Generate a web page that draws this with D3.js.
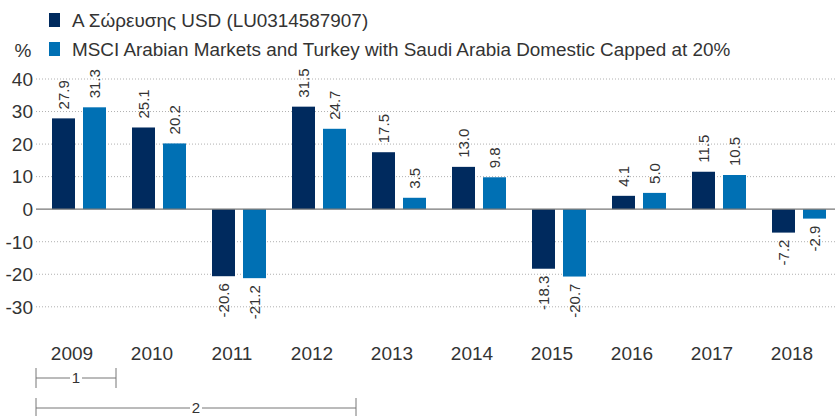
<!DOCTYPE html>
<html><head><meta charset="utf-8">
<script src="https://cdn.jsdelivr.net/npm/d3@7"></script>
<style>body{margin:0;background:#fff}svg{display:block;font-family:"Liberation Sans",Arial,sans-serif}</style>
</head><body><svg id="c" width="835" height="416"></svg>
<script>
const years = ["2009","2010","2011","2012","2013","2014","2015","2016","2017","2018"];
const fundValues = [27.9,25.1,-20.6,31.5,17.5,13.0,-18.3,4.1,11.5,-7.2];
const indexValues = [31.3,20.2,-21.2,24.7,3.5,9.8,-20.7,5.0,10.5,-2.9];
const seriesNames = ["Α Σώρευσης USD (LU0314587907)","MSCI Arabian Markets and Turkey with Saudi Arabia Domestic Capped at 20%"];
const yTicks = [-30,-20,-10,0,10,20,30,40];
const periodLabels = ["1","2"];
const periodSpans = [1,4];
const colors = ["#002a5e","#0070b4"];

const svg = d3.select("#c");
const x = d3.scaleBand().domain(years).range([36,836]);
const y = d3.scaleLinear().domain([-30,40]).range([306.8,79]);
const barW = 23, offs = [16,47];

// gridlines
svg.append("g").selectAll("line").data(yTicks.filter(d=>d!==0)).join("line")
  .attr("x1",36).attr("x2",835).attr("y1",d=>y(d)).attr("y2",d=>y(d))
  .attr("stroke","#b0b0b0").attr("stroke-width",1).attr("stroke-dasharray","1,2");

// y tick labels
svg.append("g").selectAll("text").data(yTicks).join("text")
  .attr("x",33).attr("y",d=>y(d)).attr("dy","0.36em").attr("text-anchor","end")
  .attr("font-size",19).attr("fill","#333").text(d=>d);

svg.append("text").attr("x",23).attr("y",57).attr("text-anchor","middle")
  .attr("font-size",19).attr("fill","#333").text("%");

const seriesData = [fundValues,indexValues];
seriesData.forEach((vals,si)=>{
  const g = svg.append("g");
  g.selectAll("rect").data(vals).join("rect")
    .attr("x",(d,i)=>x(years[i])+offs[si]).attr("width",barW)
    .attr("y",d=>y(Math.max(0,d))).attr("height",d=>Math.abs(y(d)-y(0)))
    .attr("fill",colors[si]);
  g.selectAll("text").data(vals).join("text")
    .attr("transform",(d,i)=>{
      const cx = x(years[i])+offs[si]+barW/2;
      const yy = d>=0 ? y(d)-9 : y(d)+7;
      return `translate(${cx},${yy}) rotate(-90)`;
    })
    .attr("text-anchor",d=>d>=0?"start":"end").attr("dy","0.36em")
    .attr("font-size",15).attr("fill","#333").text(d=>d.toFixed(1));
});

// zero line
svg.append("line").attr("x1",36).attr("x2",835).attr("y1",y(0)).attr("y2",y(0))
  .attr("stroke","#777").attr("stroke-width",1.3);

// x labels
svg.append("g").selectAll("text").data(years).join("text")
  .attr("x",d=>x(d)+x.bandwidth()/2-4).attr("y",360).attr("text-anchor","middle")
  .attr("font-size",19).attr("fill","#333").text(d=>d);

// legend
seriesNames.forEach((n,i)=>{
  const yy = 13 + i*29;
  svg.append("rect").attr("x",49).attr("y",yy).attr("width",11).attr("height",14).attr("fill",colors[i]);
  svg.append("text").attr("x",72).attr("y",yy+14).attr("font-size",18.9).attr("fill","#333").text(n);
});

// period brackets
periodLabels.forEach((lab,i)=>{
  const x0 = 36, x1 = x(years[periodSpans[i]-1]) + x.bandwidth();
  const yy = i===0 ? 378 : 408;
  const g = svg.append("g").attr("stroke","#777").attr("stroke-width",1);
  g.append("line").attr("x1",x0).attr("x2",x1).attr("y1",yy).attr("y2",yy);
  g.append("line").attr("x1",x0).attr("x2",x0).attr("y1",yy-10).attr("y2",yy+10);
  g.append("line").attr("x1",x1).attr("x2",x1).attr("y1",yy-10).attr("y2",yy+10);
  const cx = (x0+x1)/2;
  svg.append("rect").attr("x",cx-6).attr("y",yy-8).attr("width",12).attr("height",16).attr("fill","#fff");
  svg.append("text").attr("x",cx).attr("y",yy).attr("dy","0.36em").attr("text-anchor","middle")
    .attr("font-size",15).attr("fill","#333").text(lab);
});
</script></body></html>
